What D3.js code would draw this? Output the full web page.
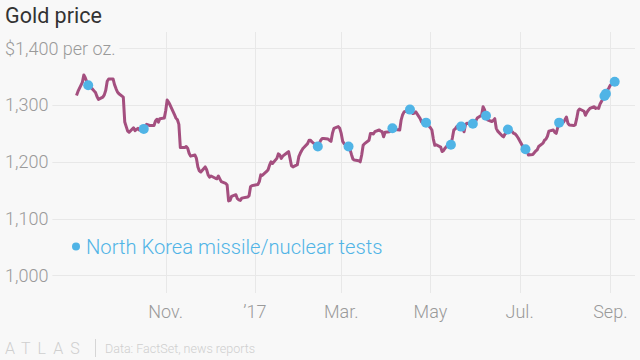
<!DOCTYPE html>
<html><head><meta charset="utf-8">
<script src="https://cdn.jsdelivr.net/npm/d3@7"></script>
<style>
html,body{margin:0;padding:0;background:#f8f8f8;}
svg{display:block;font-family:Roboto,"Noto Sans",sans-serif;}
</style></head>
<body>
<svg id="chart" width="640" height="360"></svg>
<script>
const priceDates = ["2016-09-01","2016-09-02","2016-09-05","2016-09-06","2016-09-07","2016-09-08","2016-09-09","2016-09-12","2016-09-13","2016-09-14","2016-09-15","2016-09-16","2016-09-19","2016-09-20","2016-09-21","2016-09-22","2016-09-23","2016-09-26","2016-09-27","2016-09-28","2016-09-29","2016-09-30",
"2016-10-03","2016-10-04","2016-10-05","2016-10-06","2016-10-07","2016-10-10","2016-10-11","2016-10-12","2016-10-13","2016-10-14","2016-10-17","2016-10-18","2016-10-19","2016-10-20","2016-10-21","2016-10-24","2016-10-25","2016-10-26","2016-10-27","2016-10-28","2016-10-31",
"2016-11-01","2016-11-02","2016-11-03","2016-11-04","2016-11-07","2016-11-08","2016-11-09","2016-11-10","2016-11-11","2016-11-14","2016-11-15","2016-11-16","2016-11-17","2016-11-18","2016-11-21","2016-11-22","2016-11-23","2016-11-24","2016-11-25","2016-11-28","2016-11-29","2016-11-30",
"2016-12-01","2016-12-02","2016-12-05","2016-12-06","2016-12-07","2016-12-08","2016-12-09","2016-12-12","2016-12-13","2016-12-14","2016-12-15","2016-12-16","2016-12-19","2016-12-20","2016-12-21","2016-12-22","2016-12-23","2016-12-27","2016-12-28","2016-12-29","2016-12-30",
"2017-01-03","2017-01-04","2017-01-05","2017-01-06","2017-01-09","2017-01-10","2017-01-11","2017-01-12","2017-01-13","2017-01-16","2017-01-17","2017-01-18","2017-01-19","2017-01-20","2017-01-23","2017-01-24","2017-01-25","2017-01-26","2017-01-27","2017-01-30","2017-01-31",
"2017-02-01","2017-02-02","2017-02-03","2017-02-06","2017-02-07","2017-02-08","2017-02-09","2017-02-10","2017-02-13","2017-02-14","2017-02-15","2017-02-16","2017-02-17","2017-02-20","2017-02-21","2017-02-22","2017-02-23","2017-02-24","2017-02-27","2017-02-28",
"2017-03-01","2017-03-02","2017-03-03","2017-03-06","2017-03-07","2017-03-08","2017-03-09","2017-03-10","2017-03-13","2017-03-14","2017-03-15","2017-03-16","2017-03-17","2017-03-20","2017-03-21","2017-03-22","2017-03-23","2017-03-24","2017-03-27","2017-03-28","2017-03-29","2017-03-30","2017-03-31",
"2017-04-03","2017-04-04","2017-04-05","2017-04-06","2017-04-07","2017-04-10","2017-04-11","2017-04-12","2017-04-13","2017-04-17","2017-04-18","2017-04-19","2017-04-20","2017-04-21","2017-04-24","2017-04-25","2017-04-26","2017-04-27","2017-04-28",
"2017-05-01","2017-05-02","2017-05-03","2017-05-04","2017-05-05","2017-05-08","2017-05-09","2017-05-10","2017-05-11","2017-05-12","2017-05-15","2017-05-16","2017-05-17","2017-05-18","2017-05-19","2017-05-22","2017-05-23","2017-05-24","2017-05-25","2017-05-26","2017-05-30","2017-05-31",
"2017-06-01","2017-06-02","2017-06-05","2017-06-06","2017-06-07","2017-06-08","2017-06-09","2017-06-12","2017-06-13","2017-06-14","2017-06-15","2017-06-16","2017-06-19","2017-06-20","2017-06-21","2017-06-22","2017-06-23","2017-06-26","2017-06-27","2017-06-28","2017-06-29","2017-06-30",
"2017-07-03","2017-07-04","2017-07-05","2017-07-06","2017-07-07","2017-07-10","2017-07-11","2017-07-12","2017-07-13","2017-07-14","2017-07-17","2017-07-18","2017-07-19","2017-07-20","2017-07-21","2017-07-24","2017-07-25","2017-07-26","2017-07-27","2017-07-28","2017-07-31",
"2017-08-01","2017-08-02","2017-08-03","2017-08-04","2017-08-07","2017-08-08","2017-08-09","2017-08-10","2017-08-11","2017-08-14","2017-08-15","2017-08-16","2017-08-17","2017-08-18","2017-08-21","2017-08-22","2017-08-23","2017-08-24","2017-08-25","2017-08-28","2017-08-29","2017-08-30","2017-08-31",
"2017-09-01","2017-09-04"];
const priceValues = [1317,1324,1340,1353,1348,1341,1335,1328,1325,1322,1315,1310,1314,1318,1326,1342,1346,1346,1336,1329,1323,1320,
1314,1270,1262,1254,1252,1260,1255,1257,1259,1256,1258,1263,1266,1265,1264,1264,1272,1275,1270,1276,1277,
1290,1309,1305,1300,1283,1277,1274,1266,1225,1225,1227,1224,1215,1210,1212,1206,1191,1184,1182,1191,1186,1177,
1173,1175,1171,1170,1175,1170,1165,1162,1159,1131,1132,1139,1142,1135,1133,1132,1136,1138,1140,1156,1158,
1160,1165,1177,1176,1183,1186,1194,1200,1197,1206,1214,1212,1206,1210,1216,1218,1206,1193,1191,1195,1209,
1215,1220,1224,1232,1238,1238,1235,1233,1227,1232,1238,1241,1241,1240,1238,1236,1250,1259,1262,1259,
1250,1236,1232,1227,1222,1213,1205,1203,1202,1200,1212,1229,1232,1238,1250,1250,1249,1253,1256,1254,1253,1244,1252,
1253,1256,1259,1258,1257,1256,1274,1283,1288,1292,1290,1285,1286,1288,1276,1270,1268,1266,1269,
1260,1256,1240,1229,1230,1226,1218,1220,1224,1227,1230,1242,1256,1258,1262,1262,1260,1253,1266,1268,1267,1270,
1272,1277,1282,1297,1292,1281,1274,1271,1273,1276,1259,1254,1246,1244,1249,1251,1257,1253,1250,1249,1246,1242,
1228,1225,1222,1221,1212,1213,1216,1219,1221,1227,1233,1238,1240,1245,1254,1256,1252,1250,1260,1269,1270,
1274,1279,1268,1265,1264,1265,1276,1290,1293,1289,1282,1287,1291,1294,1297,1294,1295,1294,1302,1316,1320,1326,1330,
1335,1341];

const eventDates = ["2016-09-09","2016-10-17","2017-02-13","2017-03-06","2017-04-05","2017-04-17","2017-04-28","2017-05-15","2017-05-22","2017-05-30","2017-06-08","2017-06-23","2017-07-05","2017-07-28","2017-08-28","2017-08-29","2017-09-04"];
const eventValues = [1335,1258,1227,1227,1259,1292,1269,1230,1262,1267,1281,1257,1222,1269,1316,1320,1341];

const xTickDates = ["2016-11-01","2017-01-01","2017-03-01","2017-05-01","2017-07-01","2017-09-01"];
const xTickLabels = ["Nov.","\u201917","Mar.","May","Jul.","Sep."];
const yTickValues = [1000,1100,1200,1300,1400];
const yTickLabels = ["1,000","1,100","1,200","1,300","$1,400 per oz."];

const titleText = "Gold price";
const legendText = "North Korea missile/nuclear tests";
const sourceText = "Data: FactSet, news reports";

const parse = d3.timeParse("%Y-%m-%d");
const svg = d3.select("#chart");

const x = d3.scaleTime()
  .domain([parse("2016-09-01"), parse("2017-09-04")])
  .range([76.5, 614.7]);
const y = d3.scaleLinear().domain([1000, 1400]).range([275.3, 48.3]);

const lineColor = "#a44f7f", dotColor = "#50b4e6", gridColor = "#e8e8e8", labelColor = "#9a9a9a";

// vertical gridlines
svg.append("g").selectAll("line").data(xTickDates).join("line")
  .attr("x1", d => Math.round(x(parse(d))) + 0.5).attr("x2", d => Math.round(x(parse(d))) + 0.5)
  .attr("y1", 32).attr("y2", 293)
  .attr("stroke", gridColor).attr("stroke-width", 1);

// y labels + horizontal gridlines
const yg = svg.append("g");
yTickValues.forEach((v, i) => {
  const t = yg.append("text")
    .attr("x", 5).attr("y", y(v)).attr("dy", "0.35em")
    .attr("font-size", 18).attr("font-weight", 300).attr("fill", labelColor)
    .text(yTickLabels[i]);
  const w = t.node().getComputedTextLength();
  yg.insert("line", "text")
    .attr("x1", 5 + w + 4).attr("x2", 635)
    .attr("y1", Math.round(y(v)) + 0.5).attr("y2", Math.round(y(v)) + 0.5)
    .attr("stroke", gridColor).attr("stroke-width", 1);
});

// x labels
svg.append("g").selectAll("text").data(xTickDates).join("text")
  .attr("x", d => x(parse(d))).attr("y", 318)
  .attr("text-anchor", "middle")
  .attr("font-size", 18).attr("font-weight", 300).attr("fill", labelColor)
  .text((d, i) => xTickLabels[i]);

// price line
const series = priceDates.map((d, i) => ({date: parse(d), value: priceValues[i]}));
svg.append("path").datum(series)
  .attr("fill", "none").attr("stroke", lineColor).attr("stroke-width", 3)
  .attr("stroke-linejoin", "round")
  .attr("d", d3.line().x(d => x(d.date)).y(d => y(d.value)));

// event dots
svg.append("g").selectAll("circle").data(eventDates).join("circle")
  .attr("cx", d => x(parse(d))).attr("cy", (d, i) => y(eventValues[i]))
  .attr("r", 5).attr("fill", dotColor);

// legend
svg.append("circle").attr("cx", 76).attr("cy", 246.5).attr("r", 4).attr("fill", dotColor);
svg.append("text").attr("x", 86).attr("y", 253.5)
  .attr("font-size", 20.2).attr("font-weight", 300).attr("fill", dotColor)
  .text(legendText);

// title
svg.append("text").attr("x", 5).attr("y", 23)
  .attr("font-size", 21.5).attr("fill", "#333")
  .text(titleText);

// footer
svg.append("text").attr("x", 5).attr("y", 354)
  .attr("font-size", 16).attr("font-weight", 300).attr("fill", "#cfcfcf")
  .attr("letter-spacing", 7).text("ATLAS");
svg.append("line").attr("x1", 95.5).attr("x2", 95.5).attr("y1", 339).attr("y2", 357)
  .attr("stroke", "#d6d6d6").attr("stroke-width", 1);
svg.append("text").attr("x", 105).attr("y", 352.5)
  .attr("font-size", 12.5).attr("font-weight", 300).attr("fill", "#cfcfcf")
  .text(sourceText);
</script>
</body></html>
